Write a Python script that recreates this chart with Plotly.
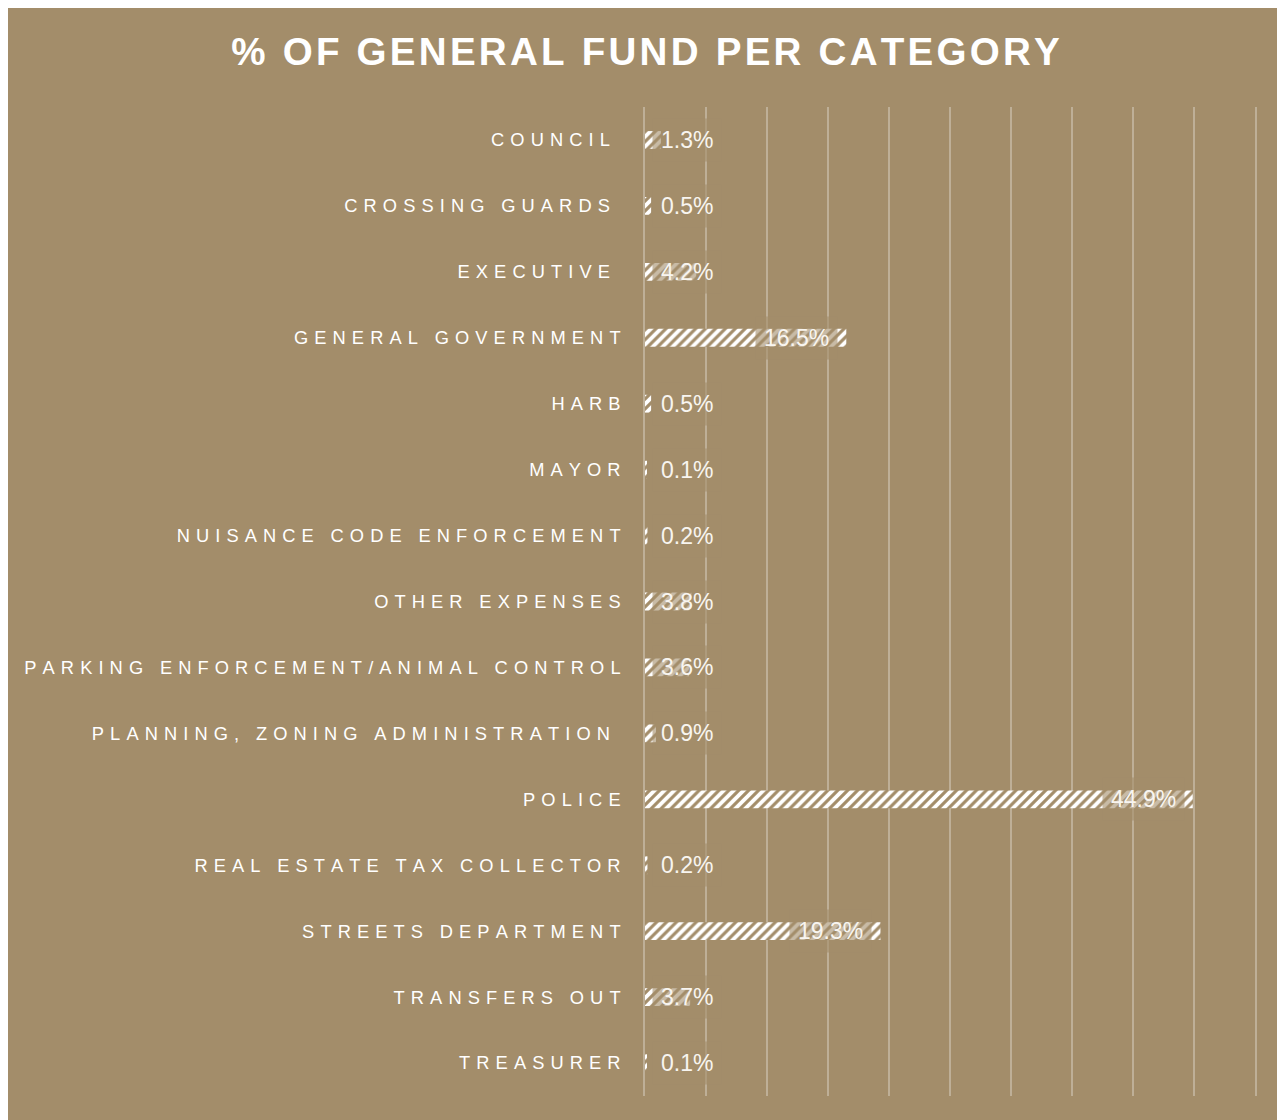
import plotly.graph_objects as go

# ---- data ----
categories = [
    "COUNCIL ",
    "CROSSING GUARDS ",
    "EXECUTIVE ",
    "GENERAL GOVERNMENT",
    "HARB",
    "MAYOR",
    "NUISANCE CODE ENFORCEMENT",
    "OTHER EXPENSES",
    "PARKING ENFORCEMENT/ANIMAL CONTROL",
    "PLANNING, ZONING ADMINISTRATION ",
    "POLICE",
    "REAL ESTATE TAX COLLECTOR",
    "STREETS DEPARTMENT",
    "TRANSFERS OUT",
    "TREASURER",
]
values = [1.3, 0.5, 4.2, 16.5, 0.5, 0.1, 0.2, 3.8, 3.6, 0.9, 44.9, 0.2, 19.3, 3.7, 0.1]
title_text = "% OF GENERAL FUND PER CATEGORY"

BG = "#A38D6A"
GRID = "rgba(255,255,255,0.3)"
FONT = "Liberation Sans, Arial, sans-serif"


def spaced(s, sep="\u2004", space="\u2005"):
    return sep.join(space if c == " " else c for c in s)


fig = go.Figure(
    go.Bar(
        x=values,
        y=categories,
        orientation="h",
        width=0.27,
        marker=dict(
            color=BG,
            line=dict(width=0),
            pattern=dict(shape="/", fgcolor="white", bgcolor=BG, size=7,
                         solidity=0.55, fgopacity=1, fillmode="overlay"),
        ),
        hoverinfo="skip",
    )
)

annotations = []
for cat, v in zip(categories, values):
    label = f"{v:.1f}%"
    if v < 8:
        annotations.append(dict(x=0, y=cat, xref="x", yref="y", text=label,
                                showarrow=False, xanchor="left", xshift=7))
    else:
        annotations.append(dict(x=v, y=cat, xref="x", yref="y", text=label,
                                showarrow=False, xanchor="right", xshift=-8))
for a in annotations:
    a.update(font=dict(family=FONT, size=23, color="#F8F5F0"),
             bgcolor="rgba(163,141,106,0.6)", borderpad=8, yanchor="middle")

fig.update_layout(
    width=1275,
    height=1112,
    margin=dict(l=637, r=28, t=99, b=24),
    paper_bgcolor=BG,
    plot_bgcolor=BG,
    showlegend=False,
    title=dict(
        text="<b>" + spaced(title_text, sep="\u200a", space=" ") + "</b>",
        x=0.5, xanchor="center", xref="container",
        y=1 - 43 / 1112, yanchor="middle", yref="container",
        font=dict(family=FONT, size=38.6, color="white"),
    ),
    xaxis=dict(
        range=[0, 50], dtick=5, tick0=0,
        showticklabels=False, ticks="",
        showgrid=True, gridcolor=GRID, gridwidth=1.5,
        zeroline=False, showline=False, fixedrange=True,
    ),
    yaxis=dict(
        autorange="reversed",
        tickvals=categories,
        ticktext=[spaced(c) for c in categories],
        tickfont=dict(family=FONT, size=18.3, color="white"),
        ticks="", ticklabelstandoff=19,
        showgrid=False, zeroline=False,
        showline=True, mirror=True, linecolor=GRID, linewidth=1.5,
    ),
    annotations=annotations,
)

fig.write_html("out.html")
